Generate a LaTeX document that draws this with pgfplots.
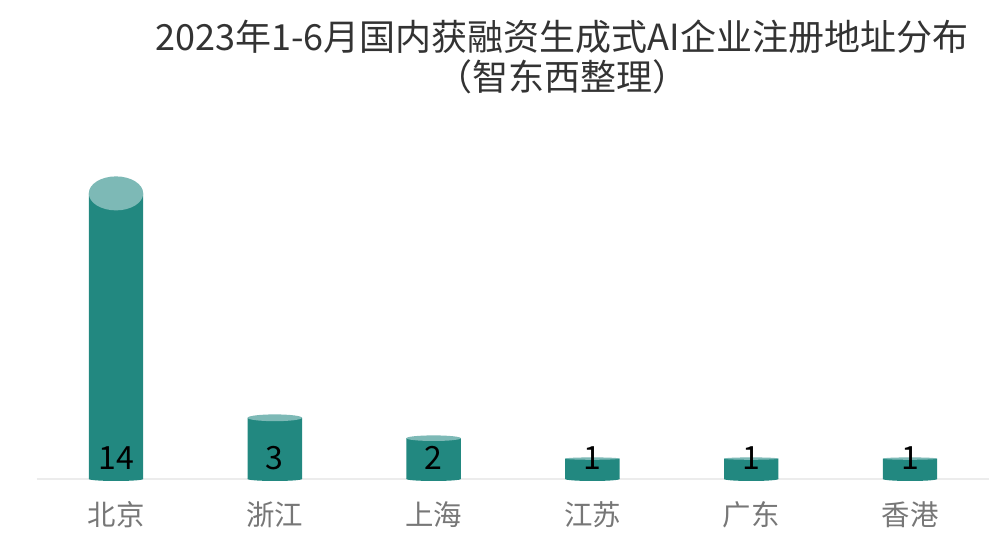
\documentclass[border=0pt]{standalone}
\usepackage{pgfplots}
\pgfplotsset{compat=1.18}
\usepackage{pgfplotstable}
\usepackage{fontspec}
\setmainfont{Noto Sans CJK SC}
\definecolor{barc}{RGB}{34,136,128}
\definecolor{topc}{RGB}{125,185,182}
\definecolor{titlec}{RGB}{51,51,51}
\definecolor{tickc}{RGB}{119,119,119}
\definecolor{basec}{RGB}{236,236,236}
\pgfdeclareplotmark{cyltop}{%
  \pgfpathellipse{\pgfpointorigin}{\pgfqpoint{13.6pt}{0pt}}{\pgfqpoint{0pt}{\ry pt}}%
  \pgfusepath{fill}}
\pgfplotstableread{
x y ry
0 14 8.5
1 3 1.7
2 2 1.4
3 1 0.6
4 1 0.6
5 1 0.6
}\datatable
\begin{document}
\begin{tikzpicture}
\begin{axis}[
  at={(0,0)}, anchor=south west,
  scale only axis,
  width=476.4pt, height=178.5pt,
  xmin=-0.5, xmax=5.5, ymin=0, ymax=17.5,
  axis x line*=bottom,
  axis y line=none,
  x axis line style={draw=basec, line width=0.6pt},
  xtick={0,1,2,3,4,5},
  xticklabels={北京,浙江,上海,江苏,广东,香港},
  major tick length=0pt,
  xticklabel style={anchor=center, yshift=-18pt, font=\fontsize{14.2}{16}\selectfont, text=tickc},
  clip=false,
]
% bottom rounding
\addplot[only marks, scatter, scatter/@pre marker code/.code={}, scatter/@post marker code/.code={},
  visualization depends on={1.0 \as \ry}, mark=cyltop, mark options={fill=barc, draw=none}]
  table[x=x, y expr=0] {\datatable};
% bodies
\addplot[ybar, bar width=27.2pt, fill=barc, draw=none] table[x=x, y=y] {\datatable};
% tops
\addplot[only marks, scatter, scatter/@pre marker code/.code={}, scatter/@post marker code/.code={},
  visualization depends on={\thisrow{ry} \as \ry}, mark=cyltop, mark options={fill=topc, draw=none}]
  table[x=x, y=y] {\datatable};
% value labels
\addplot[draw=none, mark=none, nodes near coords, point meta=explicit symbolic,
  every node near coord/.style={anchor=center, yshift=10.5pt, font=\fontsize{16}{18}\selectfont, text=black}]
  table[x=x, y expr=0, meta=y] {\datatable};
\end{axis}
\node[align=center, text=titlec, font=\fontsize{18}{20}\selectfont] at (262.7pt,221pt) {2023年1-6月国内获融资生成式AI企业注册地址分布};
\node[align=center, text=titlec, font=\fontsize{18}{20}\selectfont] at (262.7pt,201pt) {（智东西整理）};
\path[use as bounding box] (-18.3pt,-30pt) rectangle (481.7pt,239.5pt);
\end{tikzpicture}
\end{document}
